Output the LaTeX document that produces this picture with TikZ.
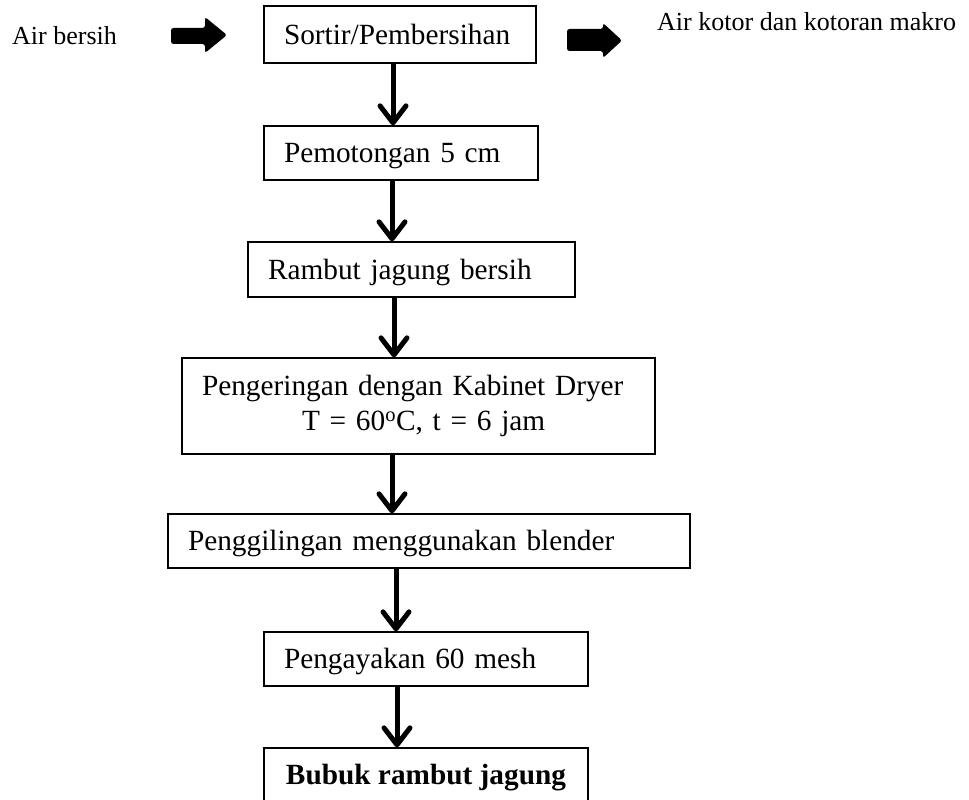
\documentclass[tikz,border=0pt]{standalone}
\usepackage{fontspec}
\setmainfont{Liberation Serif}
\usetikzlibrary{arrows.meta}
\begin{document}
\begin{tikzpicture}[x=1pt,y=-1pt,
  box/.style={draw, line width=1.3pt, rectangle, inner xsep=20pt, inner ysep=0pt,
    align=left, font=\fontsize{29.3}{35}\selectfont, text height=19.5pt, text depth=0pt},
  endbox/.style={draw, line width=1.3pt, rectangle, inner xsep=0pt, inner ysep=0pt,
    font=\fontsize{29.3}{35}\selectfont\bfseries, text height=19.5pt, text depth=0pt},
  flow/.style={line width=5pt, -{Straight Barb[length=17pt,width=26pt,round]}},
  fatarrow/.style={fill=black, rounded corners=2.5pt},
  side/.style={anchor=base west, inner sep=0pt, font=\fontsize{26}{30}\selectfont}]
\useasboundingbox (0,0) rectangle (969,800);
% boxes
\node[box, text width=232pt, minimum height=57pt] (sortir) at (400,34.5) {Sortir/Pembersihan};
\node[box, text width=234pt, minimum height=54pt] (pemot) at (401,153) {Pemotongan 5 cm};
\node[box, text width=287pt, minimum height=55pt] (rambut) at (411.5,269.5) {Rambut jagung bersih};
\node[box, text width=433pt, minimum height=96pt, text depth=41pt] (dryer) at (418.5,406)
  {Pengeringan dengan Kabinet Dryer\\\hspace*{100pt}T = 60\textsuperscript{o}C, t = 6 jam};
\node[box, text width=482pt, minimum height=54pt] (giling) at (429,541) {Penggilingan menggunakan blender};
\node[box, text width=284pt, minimum height=54pt] (ayak) at (426,659) {Pengayakan 60 mesh};
\node[endbox, minimum width=324pt, minimum height=54pt] (bubuk) at (426,775) {Bubuk rambut jagung};
% side labels
\node[side] (inlabel) at (12,45) {Air bersih};
\node[side] (outlabel) at (657,31) {Air kotor dan kotoran makro};
% fat arrows
\fill[fatarrow] (171,28) -- (205,28) -- (205,17) -- (227,35) -- (205,53) -- (205,44) -- (171,44) -- cycle;
\fill[fatarrow] (567,29) -- (603,29) -- (603,23) -- (622,40.5) -- (603,58) -- (603,51) -- (567,51) -- cycle;
% arrow x positions
\coordinate (a1) at (393,0);
\coordinate (a2) at (392,0);
\coordinate (a3) at (394,0);
\coordinate (a4) at (392,0);
\coordinate (a5) at (396,0);
\coordinate (a6) at (397,0);
\draw[flow] (sortir.south -| a1) -- (pemot.north -| a1);
\draw[flow] (pemot.south -| a2) -- (rambut.north -| a2);
\draw[flow] (rambut.south -| a3) -- (dryer.north -| a3);
\draw[flow] (dryer.south -| a4) -- (giling.north -| a4);
\draw[flow] (giling.south -| a5) -- (ayak.north -| a5);
\draw[flow] (ayak.south -| a6) -- (bubuk.north -| a6);
\end{tikzpicture}
\end{document}
